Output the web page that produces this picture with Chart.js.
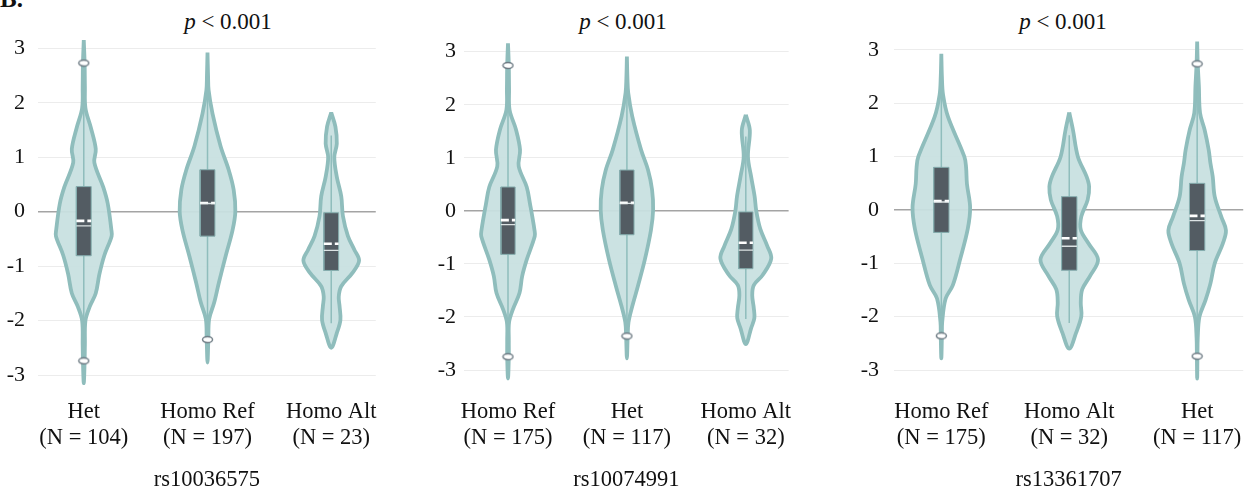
<!DOCTYPE html>
<html>
<head>
<meta charset="utf-8">
<script src="https://cdn.jsdelivr.net/npm/chart.js@4.4.0/dist/chart.umd.min.js"></script>
<style>
  body { margin: 0; background: #fff; width: 1256px; height: 489px; overflow: hidden; position: relative; font-family: "Liberation Serif", "Times New Roman", serif; color: #111; }
  .panel { position: absolute; top: 0; height: 489px; }
  .ptitle { position: absolute; top: 10px; font-size: 23px; line-height: 24px; white-space: nowrap; transform: translateX(-50%); }
  #tag { position: absolute; left: 0; top: -13px; font-size: 25px; line-height: 24px; font-weight: bold; }
</style>
</head>
<body>
<div id="tag">B.</div>
<div class="ptitle" style="left:228px"><i>p</i> &lt; 0.001</div>
<div class="ptitle" style="left:623px"><i>p</i> &lt; 0.001</div>
<div class="ptitle" style="left:1063px"><i>p</i> &lt; 0.001</div>
<canvas id="c1" class="panel" width="385" height="489" style="left:0px"></canvas>
<canvas id="c2" class="panel" width="379" height="489" style="left:426px"></canvas>
<canvas id="c3" class="panel" width="399" height="489" style="left:856px"></canvas>
<script>
const yTicks = [-3, -2, -1, 0, 1, 2, 3];
const snps = ["rs10036575", "rs10074991", "rs13361707"];

// panel 1
const groups1 = ["Het", "Homo Ref", "Homo Alt"];
const counts1 = [104, 197, 23];
const q1_1 = [-0.81, -0.45, -1.08];
const q3_1 = [0.46, 0.77, -0.02];
const mean1 = [-0.17, 0.16, -0.59];
const median1 = [-0.26, 0.15, -0.71];
const whiskLo1 = [-2.5, -2.2, -2.05];
const whiskHi1 = [2.5, 2.7, 1.4];
const outliers1 = [[2.73, -2.74], [-2.35], []];
const levels1 = [
  [3.15, 2.73, 2.3, 1.9, 1.55, 1.15, 0.9, 0.45, 0.15, -0.33, -0.45, -0.8, -1.15, -1.5, -1.75, -2.0, -2.45, -2.75, -3.15],
  [2.92, 2.5, 2.23, 1.8, 1.2, 0.77, 0.4, 0, -0.34, -0.82, -1.3, -1.67, -1.97, -2.35, -2.77],
  [1.82, 1.56, 1.25, 1.0, 0.64, 0.28, -0.08, -0.45, -0.7, -0.9, -1.12, -1.37, -1.56, -1.74, -1.99, -2.23, -2.5]
];
const density1 = [
  [0, 0.03, 0.04, 0.06, 0.25, 0.43, 0.38, 0.7, 0.86, 0.99, 1.0, 0.74, 0.56, 0.43, 0.21, 0.06, 0.04, 0.03, 0],
  [0, 0.02, 0.04, 0.18, 0.47, 0.76, 0.94, 1.0, 0.9, 0.65, 0.41, 0.24, 0.06, 0.03, 0],
  [0, 0.15, 0.2, 0.11, 0.2, 0.36, 0.42, 0.6, 0.83, 1.0, 0.77, 0.36, 0.27, 0.3, 0.33, 0.2, 0]
];

// panel 2
const groups2 = ["Homo Ref", "Het", "Homo Alt"];
const counts2 = [175, 117, 32];
const q1_2 = [-0.82, -0.45, -1.09];
const q3_2 = [0.45, 0.77, -0.02];
const mean2 = [-0.175, 0.15, -0.6];
const median2 = [-0.26, 0.14, -0.74];
const whiskLo2 = [-2.5, -2.2, -2.04];
const whiskHi2 = [2.5, 2.7, 1.4];
const outliers2 = [[2.74, -2.75], [-2.36], []];
const levels2 = [
  [3.16, 2.74, 2.3, 1.9, 1.53, 1.15, 0.84, 0.45, 0.14, -0.36, -0.48, -0.92, -1.23, -1.55, -1.86, -2.1, -2.45, -2.75, -3.16],
  [2.91, 2.5, 2.22, 1.78, 1.15, 0.77, 0.4, 0.02, -0.36, -0.92, -1.42, -1.8, -2.1, -2.36, -2.78],
  [1.81, 1.52, 1.02, 0.64, 0.27, 0, -0.34, -0.66, -0.9, -1.21, -1.4, -1.59, -1.84, -2.02, -2.21, -2.51]
];
const density2 = [
  [0, 0.03, 0.04, 0.06, 0.3, 0.45, 0.4, 0.7, 0.82, 0.99, 1.0, 0.7, 0.53, 0.43, 0.18, 0.04, 0.03, 0.03, 0],
  [0, 0.02, 0.05, 0.2, 0.53, 0.79, 0.94, 0.98, 0.9, 0.67, 0.41, 0.2, 0.06, 0.03, 0],
  [0, 0.15, 0.08, 0.2, 0.33, 0.39, 0.54, 0.8, 0.95, 0.63, 0.3, 0.24, 0.3, 0.32, 0.2, 0]
];

// panel 3
const groups3 = ["Homo Ref", "Homo Alt", "Het"];
const counts3 = [175, 32, 117];
const q1_3 = [-0.42, -1.13, -0.76];
const q3_3 = [0.8, 0.25, 0.5];
const mean3 = [0.17, -0.53, -0.11];
const median3 = [0.15, -0.68, -0.2];
const whiskLo3 = [-2.2, -2.12, -2.5];
const whiskHi3 = [2.7, 1.4, 2.5];
const outliers3 = [[-2.36], [], [2.74, -2.74]];
const levels3 = [
  [2.93, 2.5, 2.16, 1.75, 1.0, 0.8, 0.49, 0.05, -0.35, -0.91, -1.41, -1.66, -2.1, -2.36, -2.78],
  [1.83, 1.5, 1.0, 0.63, 0.44, 0.19, -0.12, -0.37, -0.62, -0.93, -1.24, -1.49, -1.74, -1.99, -2.3, -2.6],
  [3.16, 2.74, 2.32, 1.82, 1.5, 1.13, 0.88, 0.63, 0.25, -0.13, -0.38, -0.63, -1.0, -1.38, -1.69, -2.0, -2.4, -2.74, -3.16]
];
const density3 = [
  [0, 0.02, 0.06, 0.23, 0.8, 0.86, 0.89, 1.0, 0.92, 0.66, 0.4, 0.15, 0.03, 0.02, 0],
  [0, 0.13, 0.3, 0.6, 0.69, 0.64, 0.42, 0.4, 0.66, 1.0, 0.72, 0.45, 0.4, 0.42, 0.24, 0],
  [0, 0.02, 0.06, 0.1, 0.26, 0.4, 0.46, 0.54, 0.61, 0.84, 1.0, 0.89, 0.61, 0.46, 0.29, 0.08, 0.02, 0.01, 0]
];

const FONT = "'Liberation Serif', 'Times New Roman', serif";
const VIOLIN_FILL = "rgba(200, 224, 224, 0.95)";
const VIOLIN_LINE = "#8fbdbc";
const BOX_FILL = "#535c63";
const VH = 0.225;   // half width of the widest violin, in x units
const BH = 0.06;    // half width of the box

function outlierDot() {
  const c = document.createElement("canvas");
  c.width = 13; c.height = 9;
  const g = c.getContext("2d");
  g.beginPath();
  g.ellipse(6.5, 4.5, 5, 3, 0, 0, Math.PI * 2);
  g.fillStyle = "#fff";
  g.fill();
  g.lineWidth = 1.4;
  g.strokeStyle = "#6e7b84";
  g.stroke();
  return c;
}
const dot = outlierDot();

function makePanel(id, lay, snp, groups, counts, levels, density, q1, q3, mean, median, wLo, wHi, outliers) {
  const unit = (lay.yM3 - lay.y3) / 6;
  const top = lay.y3 - 0.3 * unit;
  const bottom = lay.yM3 + 0.3 * unit;
  const datasets = [];

  groups.forEach((g, i) => {
    // violin outline: down the right side, back up the left side
    const right = levels[i].map((y, k) => ({ x: i + density[i][k] * VH, y }));
    const left = levels[i].map((y, k) => ({ x: i - density[i][k] * VH, y })).reverse().slice(1);
    datasets.push({
      data: right.concat(left), showLine: true, fill: "shape", tension: 0.35,
      backgroundColor: VIOLIN_FILL, borderColor: VIOLIN_LINE, borderWidth: 3.8,
      borderJoinStyle: "round", pointRadius: 0, order: 5, clip: false
    });
    datasets.push({
      data: [{ x: i, y: wLo[i] }, { x: i, y: wHi[i] }], showLine: true,
      borderColor: VIOLIN_LINE, borderWidth: 1.5, pointRadius: 0, order: 4
    });
    datasets.push({
      data: [{ x: i - BH, y: q1[i] }, { x: i + BH, y: q1[i] }, { x: i + BH, y: q3[i] }, { x: i - BH, y: q3[i] }, { x: i - BH, y: q1[i] }],
      showLine: true, fill: "shape", tension: 0, backgroundColor: BOX_FILL,
      borderColor: "#86aeaf", borderWidth: 1, pointRadius: 0, order: 3
    });
    datasets.push({
      data: [{ x: i - BH, y: median[i] }, { x: i + BH, y: median[i] }], showLine: true,
      borderColor: "rgba(235,242,242,0.9)", borderWidth: 1.3, pointRadius: 0, order: 2
    });
    datasets.push({
      data: [{ x: i - BH, y: mean[i] }, { x: i + BH, y: mean[i] }], showLine: true,
      borderColor: "#ffffff", borderWidth: 2.6, borderDash: [8, 3], pointRadius: 0, order: 2
    });
    if (outliers[i].length) {
      datasets.push({
        data: outliers[i].map(y => ({ x: i, y })), showLine: false,
        pointStyle: dot, pointRadius: 5, order: 1, clip: false
      });
    }
  });

  return new Chart(document.getElementById(id), {
    type: "scatter",
    data: { datasets },
    options: {
      responsive: false,
      animation: false,
      layout: { padding: { top: top, right: 6, left: 0, bottom: 0 } },
      plugins: { legend: { display: false }, tooltip: { enabled: false } },
      scales: {
        x: {
          type: "linear", min: -0.37, max: 2.36, offset: false,
          grid: { display: false, drawTicks: false },
          border: { display: false },
          afterBuildTicks: s => { s.ticks = groups.map((g, i) => ({ value: i })); },
          afterFit: s => { s.height = 489 - bottom; },
          ticks: {
            padding: 399 - bottom, color: "#111", maxRotation: 0, autoSkip: false,
            font: { family: FONT, size: 22.5, lineHeight: 1.16 },
            callback: v => [groups[v], "(N = " + counts[v] + ")"]
          },
          title: {
            display: true, text: snp, color: "#111",
            font: { family: FONT, size: 22.5, lineHeight: 1 },
            padding: { top: 0, bottom: -2 }
          }
        },
        y: {
          min: -3.3, max: 3.3,
          afterBuildTicks: s => { s.ticks = yTicks.map(v => ({ value: v })); },
          afterFit: s => { s.width = 38; },
          grid: {
            drawTicks: false,
            color: c => (c.tick && c.tick.value === 0 ? "#a4a4a4" : "#ececec"),
            lineWidth: c => (c.tick && c.tick.value === 0 ? 1.5 : 1)
          },
          border: { display: false },
          ticks: { padding: lay.yPad, color: "#111", font: { family: FONT, size: 22 } }
        }
      }
    }
  });
}

makePanel("c1", { y3: 48.3, yM3: 375, yPad: 13 }, snps[0], groups1, counts1, levels1, density1, q1_1, q3_1, mean1, median1, whiskLo1, whiskHi1, outliers1);
makePanel("c2", { y3: 51.7, yM3: 370, yPad: 8 }, snps[1], groups2, counts2, levels2, density2, q1_2, q3_2, mean2, median2, whiskLo2, whiskHi2, outliers2);
makePanel("c3", { y3: 50, yM3: 370, yPad: 15 }, snps[2], groups3, counts3, levels3, density3, q1_3, q3_3, mean3, median3, whiskLo3, whiskHi3, outliers3);
</script>
</body>
</html>
